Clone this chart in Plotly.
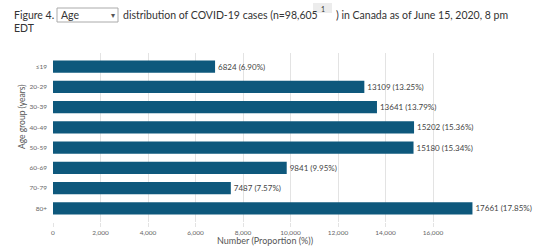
import plotly.graph_objects as go

age_groups = ["≤19", "20-29", "30-39", "40-49", "50-59", "60-69", "70-79", "80+"]
case_counts = [6824, 13109, 13641, 15202, 15180, 9841, 7487, 17661]
case_percent = ["6.90%", "13.25%", "13.79%", "15.36%", "15.34%", "9.95%", "7.57%", "17.85%"]
x_tick_values = [0, 2000, 4000, 6000, 8000, 10000, 12000, 14000, 16000]
x_tick_labels = ["0", "2,000", "4,000", "6,000", "8,000", "10,000", "12,000", "14,000", "16,000"]

W, H = 538, 248
L, T, R, B = 53, 53, 480, 222  # plot area in pixels
PW, PH = R - L, B - T


def px(x):
    return (x - L) / PW


def py(y):
    return (B - y) / PH


FONT = "Lato"
BAR = "#0e587c"

positions = list(range(len(age_groups)))
labels = [f"{c} ({p})" for c, p in zip(case_counts, case_percent)]

fig = go.Figure()
fig.add_trace(go.Bar(
    x=case_counts, y=positions, orientation="h",
    marker=dict(color=BAR, line=dict(width=0)),
    width=0.61,
    text=labels, textposition="outside",
    textfont=dict(family=FONT, size=8, color="#444"),
    cliponaxis=False, hoverinfo="skip",
))

fig.update_layout(
    width=W, height=H,
    margin=dict(l=L, r=W - R, t=T, b=H - B, pad=0, autoexpand=False),
    paper_bgcolor="white", plot_bgcolor="white",
    showlegend=False,
    font=dict(family=FONT, color="#333"),
    xaxis=dict(
        range=[0, PW / 0.02375], tickvals=x_tick_values, ticktext=x_tick_labels,
        showgrid=True, gridcolor="#e3e3e3", gridwidth=1, zeroline=False,
        showline=False, ticks="outside", ticklen=4, tickcolor="#e3e3e3",
        tickfont=dict(family=FONT, size=6.5, color="#666"),
        automargin=False, fixedrange=True,
    ),
    yaxis=dict(
        range=[7.67, -0.67], tickvals=positions, ticktext=age_groups,
        showgrid=False, zeroline=False, showline=False, ticks="",
        ticklabelstandoff=5,
        tickfont=dict(family=FONT, size=6.5, color="#666"),
        automargin=False, fixedrange=True,
    ),
)

ann = []
# title line 1
ann.append(dict(text="Figure 4.", x=px(12), y=py(15), xanchor="left", yanchor="middle",
                font=dict(family=FONT, size=10.5, color="#333")))
ann.append(dict(text="Age", x=px(59), y=py(15), xanchor="left", yanchor="middle",
                font=dict(family=FONT, size=10.5, color="#333")))
ann.append(dict(text="▾", x=px(113), y=py(15), xanchor="center", yanchor="middle",
                font=dict(family=FONT, size=8, color="#555")))
ann.append(dict(text="distribution of COVID-19 cases (n=98,605", x=px(121), y=py(15),
                xanchor="left", yanchor="middle",
                font=dict(family=FONT, size=10.5, color="#333")))
ann.append(dict(text="1", x=px(322.5), y=py(9), xanchor="center", yanchor="middle",
                font=dict(family=FONT, size=7, color="#333")))
ann.append(dict(text=") in Canada as of June 15, 2020, 8 pm", x=px(334), y=py(15),
                xanchor="left", yanchor="middle",
                font=dict(family=FONT, size=10.5, color="#333")))
ann.append(dict(text="EDT", x=px(12), y=py(28), xanchor="left", yanchor="middle",
                font=dict(family=FONT, size=10.5, color="#333")))
# axis titles
ann.append(dict(text="Number (Proportion (%))", x=px(215), y=py(240), xanchor="left",
                yanchor="middle", font=dict(family=FONT, size=9, color="#555")))
ann.append(dict(text="Age group (years)", x=px(22), y=py(117), xanchor="center",
                yanchor="middle", textangle=-90,
                font=dict(family=FONT, size=8.5, color="#555")))
for a in ann:
    a.update(xref="paper", yref="paper", showarrow=False)
fig.update_layout(annotations=ann)

fig.update_layout(shapes=[
    dict(type="rect", xref="paper", yref="paper", x0=px(57), x1=px(118), y0=py(22), y1=py(8),
         line=dict(color="#aaa", width=1), fillcolor="rgba(255,255,255,0)", layer="below"),
    dict(type="rect", xref="paper", yref="paper", x0=px(313), x1=px(332), y0=py(13), y1=py(3),
         line=dict(width=0), fillcolor="#ececec", layer="below"),
])

fig.write_html(
    "out.html",
    config={"displayModeBar": False},
    post_script="document.body.style.margin='0';document.body.style.overflow='hidden';",
)
